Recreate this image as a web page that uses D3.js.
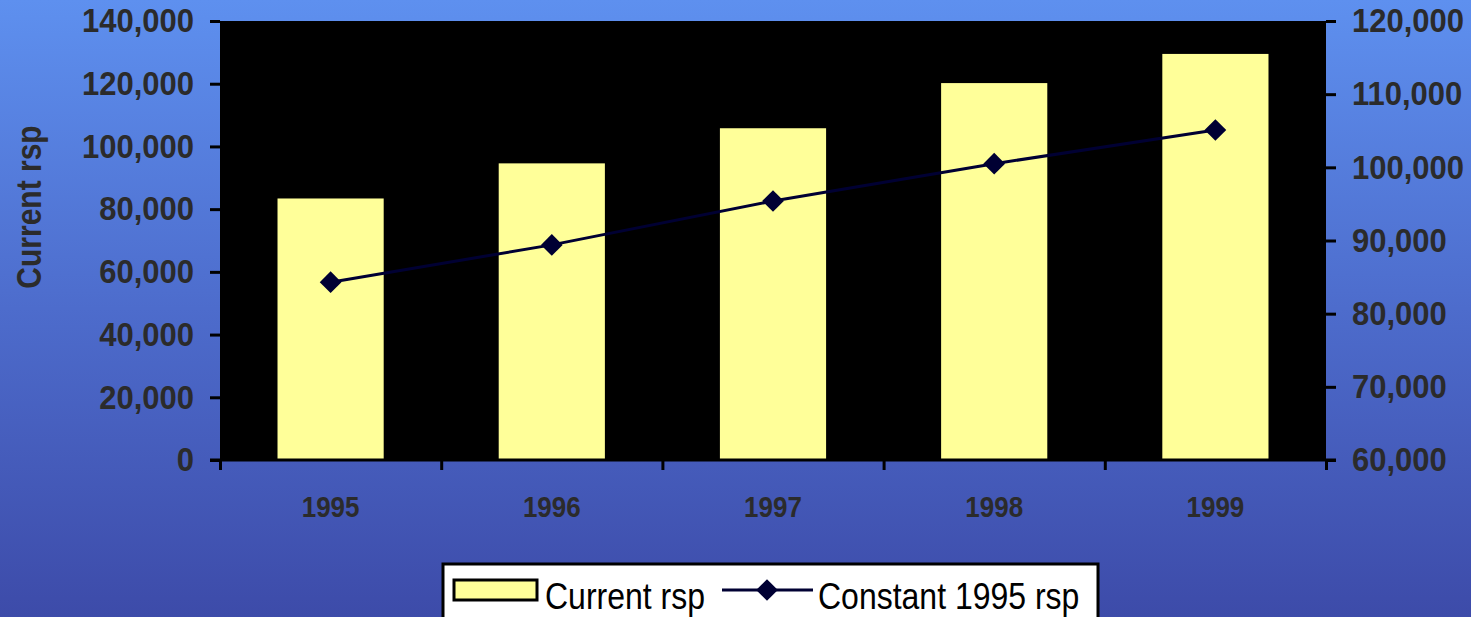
<!DOCTYPE html>
<html>
<head>
<meta charset="utf-8">
<script src="https://cdn.jsdelivr.net/npm/d3@7"></script>
<style>
  html, body { margin: 0; padding: 0; overflow: hidden; background: #3d4ba9; }
  svg { display: block; }
</style>
</head>
<body>
<svg id="chart" width="1471" height="617"></svg>
<script>
const years = ["1995", "1996", "1997", "1998", "1999"];
const currentRsp = [83400, 94600, 105800, 120200, 129500];
const constant1995Rsp = [84300, 89400, 95400, 100500, 105100];
const leftTicks = [0, 20000, 40000, 60000, 80000, 100000, 120000, 140000];
const rightTicks = [60000, 70000, 80000, 90000, 100000, 110000, 120000];
const seriesNames = ["Current rsp", "Constant 1995 rsp"];

const W = 1471, H = 617;
const plot = { left: 220, right: 1326, top: 21, bottom: 460 };
const svg = d3.select("#chart");

// background gradient
const defs = svg.append("defs");
const grad = defs.append("linearGradient").attr("id", "bg").attr("x1", 0).attr("y1", 0).attr("x2", 0).attr("y2", 1);
grad.append("stop").attr("offset", "0%").attr("stop-color", "#5e90ef");
grad.append("stop").attr("offset", "50%").attr("stop-color", "#4d6ccc");
grad.append("stop").attr("offset", "100%").attr("stop-color", "#3d4ba9");
svg.append("rect").attr("width", W).attr("height", H).attr("fill", "url(#bg)");

const x = d3.scaleBand().domain(years).range([plot.left, plot.right]).padding(0);
const xEdges = d3.scaleLinear().domain([0, years.length]).range([plot.left, plot.right]);
const yL = d3.scaleLinear().domain([0, 140000]).range([plot.bottom, plot.top]);
const yR = d3.scaleLinear().domain([60000, 120000]).range([plot.bottom, plot.top]);
const fmt = d3.format(",");

// plot area
svg.append("rect").attr("x", plot.left).attr("y", plot.top)
  .attr("width", plot.right - plot.left).attr("height", plot.bottom - plot.top)
  .attr("fill", "#000");

// bars
const barW = x.bandwidth() * 0.48;
svg.append("g").selectAll("rect").data(currentRsp).join("rect")
  .attr("x", (d, i) => x(years[i]) + (x.bandwidth() - barW) / 2)
  .attr("y", d => yL(d))
  .attr("width", barW)
  .attr("height", d => yL(0) - yL(d))
  .attr("fill", "#ffff99");

// line
const cx = i => x(years[i]) + x.bandwidth() / 2;
svg.append("path").datum(constant1995Rsp)
  .attr("fill", "none").attr("stroke", "#000033").attr("stroke-width", 3)
  .attr("d", d3.line().x((d, i) => cx(i)).y(d => yR(d)));
const diamond = d3.symbol().type(d3.symbolDiamond2).size(300);
svg.append("g").selectAll("path").data(constant1995Rsp).join("path")
  .attr("d", diamond)
  .attr("transform", (d, i) => `translate(${cx(i)},${yR(d)})`)
  .attr("fill", "#000033");

// bottom axis line
svg.append("line").attr("x1", plot.left - 10).attr("x2", plot.right + 10)
  .attr("y1", plot.bottom).attr("y2", plot.bottom)
  .attr("stroke", "#000").attr("stroke-width", 3);

const textColor = "#2b2b2b";
function styleAxis(g) {
  g.select(".domain").remove();
  g.selectAll(".tick line").attr("stroke", "#000").attr("stroke-width", 3);
}

// left axis
const gL = svg.append("g").attr("transform", `translate(${plot.left},0)`)
  .call(d3.axisLeft(yL).tickValues(leftTicks).tickFormat(fmt).tickSize(10).tickPadding(16));
styleAxis(gL);
gL.selectAll(".tick text")
  .attr("font-family", "'Liberation Sans', Arial, sans-serif")
  .attr("font-weight", "bold").attr("font-size", 31).attr("fill", textColor)
  .attr("transform", "scale(1,1.08)");

// right axis
const gR = svg.append("g").attr("transform", `translate(${plot.right},0)`)
  .call(d3.axisRight(yR).tickValues(rightTicks).tickFormat(fmt).tickSize(10).tickPadding(16));
styleAxis(gR);
gR.selectAll(".tick text")
  .attr("font-family", "'Liberation Sans', Arial, sans-serif")
  .attr("font-weight", "bold").attr("font-size", 31).attr("fill", textColor)
  .attr("transform", "scale(1,1.08)");

// x tick marks at category edges
const gXT = svg.append("g").attr("transform", `translate(0,${plot.bottom})`)
  .call(d3.axisBottom(xEdges).tickValues(d3.range(years.length + 1)).tickFormat("").tickSize(10));
styleAxis(gXT);

// year labels
const gX = svg.append("g").attr("transform", `translate(0,${plot.bottom})`)
  .call(d3.axisBottom(x).tickSize(0).tickPadding(31));
gX.select(".domain").remove();
gX.selectAll(".tick text")
  .attr("font-family", "'Liberation Sans', Arial, sans-serif")
  .attr("font-weight", "bold").attr("font-size", 26).attr("fill", textColor)
  .attr("transform", "scale(1,1.15)");

// y axis title
svg.append("text")
  .attr("transform", "translate(41,207) rotate(-90) scale(1,1.15)")
  .attr("text-anchor", "middle")
  .attr("font-family", "'Liberation Sans', Arial, sans-serif")
  .attr("font-weight", "bold").attr("font-size", 30).attr("fill", textColor)
  .text("Current rsp");

// legend
const lg = svg.append("g");
lg.append("rect").attr("x", 443).attr("y", 564).attr("width", 655).attr("height", 80)
  .attr("fill", "#fff").attr("stroke", "#000").attr("stroke-width", 3);
lg.append("rect").attr("x", 454).attr("y", 580).attr("width", 83).attr("height", 20)
  .attr("fill", "#ffff99").attr("stroke", "#000").attr("stroke-width", 3);
lg.append("text").attr("transform", "translate(545,609) scale(1,1.15)")
  .attr("font-family", "'Liberation Sans', Arial, sans-serif")
  .attr("font-size", 32).attr("fill", "#000").text(seriesNames[0]);
lg.append("line").attr("x1", 722).attr("x2", 813).attr("y1", 590).attr("y2", 590)
  .attr("stroke", "#000033").attr("stroke-width", 3);
lg.append("path").attr("d", diamond).attr("transform", "translate(767,590)").attr("fill", "#000033");
lg.append("text").attr("transform", "translate(818,609) scale(1,1.15)")
  .attr("font-family", "'Liberation Sans', Arial, sans-serif")
  .attr("font-size", 32).attr("fill", "#000").text(seriesNames[1]);
</script>
</body>
</html>
